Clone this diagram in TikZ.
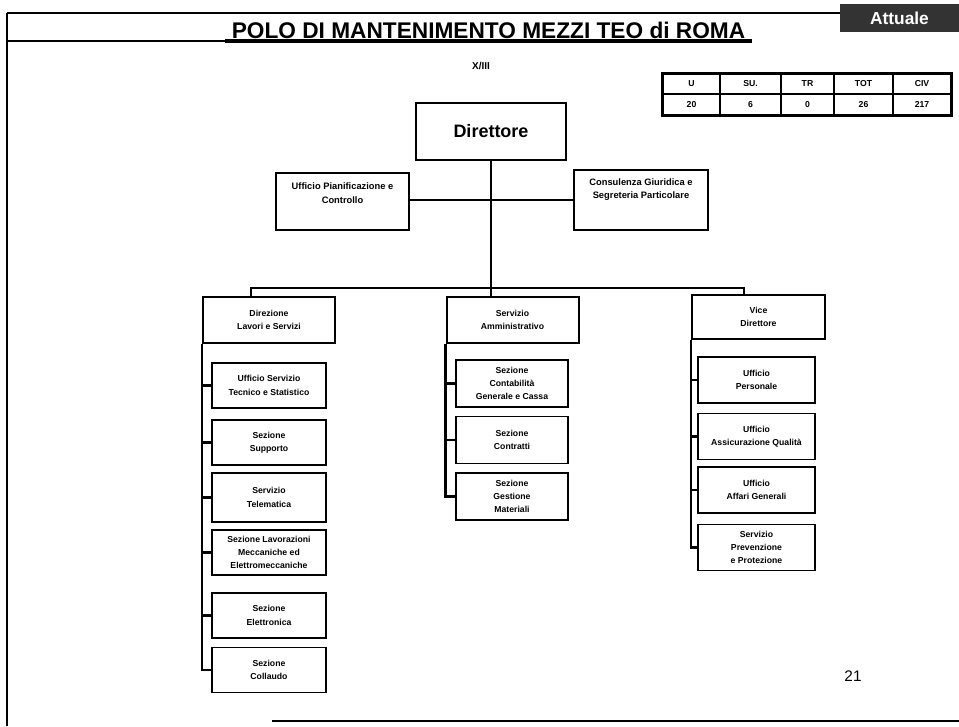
\documentclass[tikz,border=0pt]{standalone}
\usepackage{fontspec}
\setmainfont{Liberation Sans}
\usetikzlibrary{calc}
\begin{document}
\begin{tikzpicture}[x=0.75pt,y=-0.75pt]
	\tikzstyle{every node}+=[inner sep=0pt]
	\tikzstyle{box}=[draw, line width=1.2pt, align=center, font=\fontsize{6.5}{10}\selectfont\bfseries]
	\tikzstyle{head}=[box, minimum width=99pt, minimum height=34.5pt]
	\tikzstyle{subleft}=[box, minimum width=85.5pt, minimum height=34pt]
	\tikzstyle{submid}=[box, minimum width=84pt, minimum height=35pt]
	\tikzstyle{subright}=[box, minimum width=87.75pt, minimum height=34.5pt]
	\tikzstyle{cell}=[draw, line width=0.9pt, font=\fontsize{6.5}{8}\selectfont\bfseries]
	\tikzstyle{link}=[line width=1.6pt]
	\useasboundingbox (0,0) rectangle (959,726);
	\draw [line width=1.4pt] (7,13) -- (840,13);
	\draw [line width=1.4pt] (7,13) -- (7,726);
	\draw [line width=1pt] (7,41) -- (225,41);
	\draw [line width=2.6pt] (225,41) -- (752,41);
	\draw [line width=1.4pt] (272,721) -- (959,721);
	\node [anchor=base, font=\fontsize{17}{20}\selectfont\bfseries] (title) at (488.5,38) {POLO DI MANTENIMENTO MEZZI TEO di ROMA};
	\node [fill=black!80, text=white, minimum width=89pt, minimum height=21pt, font=\fontsize{13}{15}\selectfont\bfseries] (stato) at (899.5,18) {Attuale};
	\foreach \cx/\cw/\hd/\vl [count=\i] in {691.5/57/U/20, 750.5/61/SU./6, 807.5/53/TR/0, 863.5/59/TOT/26, 922/58/CIV/217} {
		\node [cell, minimum width=\cw*0.75pt, minimum height=15pt] (h\i) at (\cx,84) {\hd};
		\node [cell, minimum width=\cw*0.75pt, minimum height=15.75pt] (v\i) at (\cx,104.5) {\vl};
	}
	\draw [line width=1.8pt] (h1.north west) rectangle (v5.south east);
	\node [font=\fontsize{7.5}{9}\selectfont\bfseries] (grado) at (481,66) {X/III};
	\node [box, line width=1.5pt, minimum width=112.5pt, minimum height=42.75pt, font=\fontsize{13.5}{16}\selectfont\bfseries] (dir) at (491,131.5) {Direttore};
	\node [box, line width=1.5pt, minimum width=99.75pt, minimum height=42.75pt, label={[anchor=north, yshift=-8pt, align=center, font=\fontsize{7}{10}\selectfont\bfseries]north:Ufficio Pianificazione e\\Controllo}] (upc) at (342.5,201.5) {};
	\node [box, line width=1.5pt, minimum width=100.5pt, minimum height=45pt, label={[anchor=north, yshift=-7pt, align=center, font=\fontsize{7}{10}\selectfont\bfseries]north:Consulenza Giuridica e\\Segreteria Particolare}] (cgs) at (641,200) {};
	\node [head, line width=1.5pt] (dls) at (269,320) {Direzione\\Lavori e Servizi};
	\node [head, line width=1.5pt] (sa) at (512.5,320) {Servizio\\Amministrativo};
	\node [head, line width=1.5pt, minimum width=99.75pt, minimum height=33pt] (vd) at (758.5,317) {Vice\\Direttore};
	\node [subleft] (ls1) at (269,385.5) {Ufficio Servizio\\Tecnico e Statistico};
	\node [subleft] (ls2) at (269,442.5) {Sezione\\Supporto};
	\node [subleft, minimum height=36.75pt] (ls3) at (269,497.5) {Servizio\\Telematica};
	\node [subleft] (ls4) at (269,552.5) {Sezione Lavorazioni\\Meccaniche ed\\Elettromeccaniche};
	\node [subleft] (ls5) at (269,615.5) {Sezione\\Elettronica};
	\node [subleft] (ls6) at (269,670) {Sezione\\Collaudo};
	\node [submid] (ms1) at (512,383.5) {Sezione\\Contabilità\\Generale e Cassa};
	\node [submid] (ms2) at (512,440) {Sezione\\Contratti};
	\node [submid] (ms3) at (512,496.5) {Sezione\\Gestione\\Materiali};
	\node [subright] (rs1) at (756.5,380) {Ufficio\\Personale};
	\node [subright] (rs2) at (756.5,436.5) {Ufficio\\Assicurazione Qualità};
	\node [subright] (rs3) at (756.5,490) {Ufficio\\Affari Generali};
	\node [subright] (rs4) at (756.5,547.5) {Servizio\\Prevenzione\\e Protezione};
	\node [font=\fontsize{11.5}{14}\selectfont] (pagina) at (853,676) {21};
	\coordinate (busl) at ($(dls.north west)+(49,-8)$);
	\coordinate (busr) at ($(vd.north west)+(53,-6)$);
	\draw [link] (dir.south) -- (dir.south |- sa.north);
	\draw [link] (upc.east |- cgs.west) -- (cgs.west);
	\draw [link] ($(dls.north west)+(49,0)$) -- (busl) -- (busr) -- ($(vd.north west)+(53,0)$);
	\draw [link] (dls.south west) |- (ls6.west);
	\foreach \n in {1,...,5}
		\draw [link] (dls.south west |- ls\n.west) -- (ls\n.west);
	\draw [link] (sa.south west) |- (ms3.west);
	\foreach \n in {1,2}
		\draw [link] (sa.south west |- ms\n.west) -- (ms\n.west);
	\draw [link] (vd.south west) |- (rs4.west);
	\foreach \n in {1,2,3}
		\draw [link] (vd.south west |- rs\n.west) -- (rs\n.west);
\end{tikzpicture}
\end{document}
